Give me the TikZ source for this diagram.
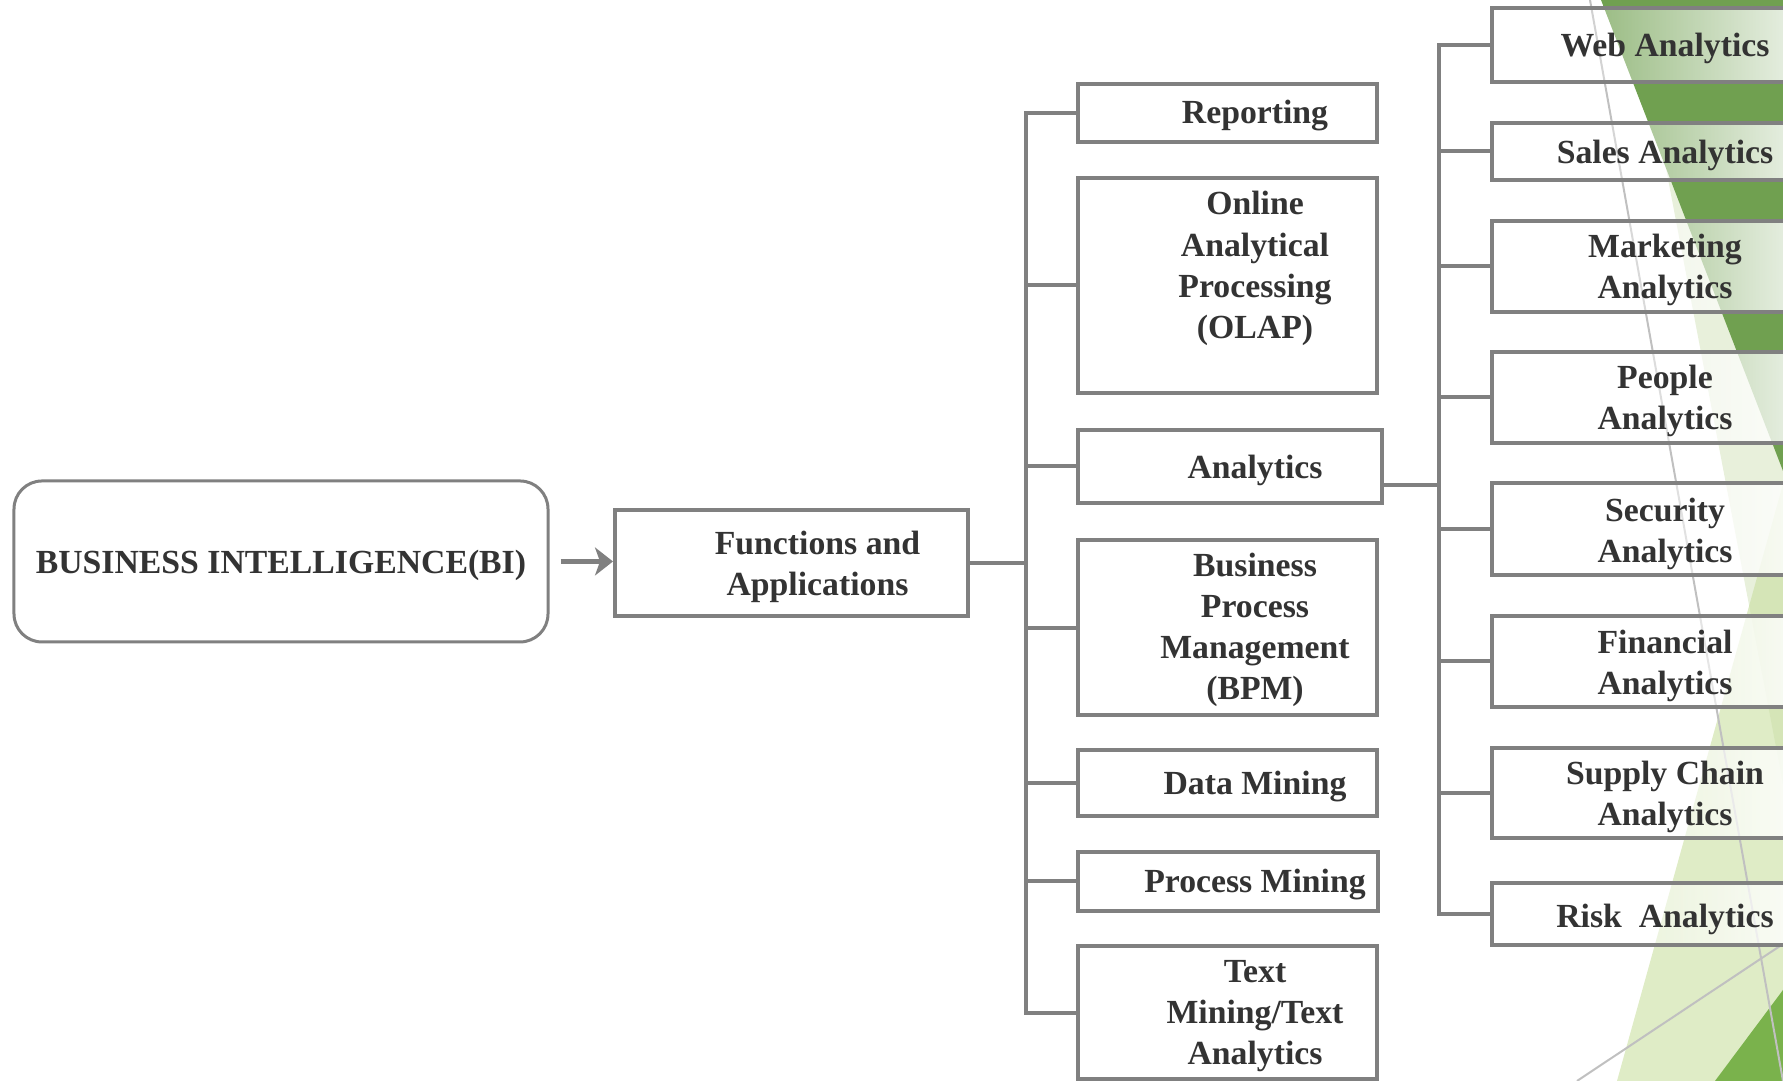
\documentclass[tikz,border=0pt]{standalone}
\usepackage{fontspec}
\setmainfont{Liberation Serif}
\usetikzlibrary{arrows.meta,fadings}

\definecolor{boxgray}{RGB}{128,128,128}
\definecolor{inkgray}{RGB}{51,51,51}
\definecolor{leafdark}{RGB}{112,160,80}
\definecolor{leafpale}{RGB}{232,240,219}
\definecolor{leaflight}{RGB}{201,223,160}
\definecolor{leafbright}{RGB}{122,178,76}
\definecolor{faintline}{RGB}{192,192,192}

% box fill: see-through on the left, solid on the right
\tikzfading[name=boxfade, left color=transparent!100, right color=transparent!0]

\begin{document}
\begin{tikzpicture}[
  font=\fontsize{9.6}{11.7}\selectfont\bfseries, line width=0.04cm,
  rootbox/.style={rectangle, rounded corners=0.28cm, draw=boxgray, line width=0.03cm, minimum width=5.34cm, minimum height=1.61cm},
  funcbox/.style={rectangle, draw=boxgray, fill=white, minimum width=2.99cm},
  subbox/.style={rectangle, draw=boxgray, minimum width=3.58cm, preaction={fill=white, path fading=boxfade}},
  boxtext/.style={align=center, text=inkgray, inner sep=0pt},
  link/.style={draw=boxgray}
]

\useasboundingbox (0,0) rectangle (17.83,10.81);
\clip (0,0) rectangle (17.83,10.81);

% green facets on the right
\fill[leafpale] (16.34,10.81) -- (17.83,10.81) -- (17.83,2.97) -- cycle;
\fill[leaflight, fill opacity=0.6] (16.17,0) -- (17.83,5.97) -- (17.83,0) -- cycle;
\fill[leafdark] (16.01,10.81) -- (17.83,10.81) -- (17.83,6.10) -- cycle;
\fill[leafbright] (17.15,0) -- (17.83,0.91) -- (17.83,0) -- cycle;
\draw[faintline, line width=0.02cm] (15.90,10.81) -- (17.83,0);
\draw[faintline, line width=0.02cm] (15.77,0) -- (17.83,1.37);

% root and first level
\node[rootbox] (bi) at (2.81,5.195) {};
\node[boxtext] (bi-t) at (2.81,5.16) {BUSINESS INTELLIGENCE(BI)};
\node[funcbox, minimum width=3.53cm, minimum height=1.06cm] (fa) at (7.915,5.176) {};
\node[boxtext] (fa-t) at (8.175,5.142) {Functions and\\Applications};

% second level
\node[funcbox, minimum height=0.58cm] (rep) at (12.275,9.68) {};
\node[funcbox, minimum height=2.15cm] (olap) at (12.275,7.955) {};
\node[funcbox, minimum width=3.04cm, minimum height=0.73cm] (ana) at (12.30,6.145) {};
\node[funcbox, minimum height=1.75cm] (bpm) at (12.275,4.533) {};
\node[funcbox, minimum height=0.66cm] (dm) at (12.275,2.975) {};
\node[funcbox, minimum width=3.00cm, minimum height=0.59cm] (pm) at (12.28,1.998) {};
\node[funcbox, minimum height=1.33cm] (tm) at (12.275,0.684) {};

\node[boxtext] (rep-t) at (12.55,9.65) {Reporting};
\node[boxtext] (olap-t) at (12.55,8.125) {Online\\Analytical\\Processing\\(OLAP)};
\node[boxtext] (ana-t) at (12.55,6.11) {Analytics};
\node[boxtext] (bpm-t) at (12.55,4.514) {Business\\Process\\Management\\(BPM)};
\node[boxtext] (dm-t) at (12.55,2.941) {Data Mining};
\node[boxtext] (pm-t) at (12.55,1.963) {Process Mining};
\node[boxtext] (tm-t) at (12.55,0.648) {Text\\Mining/Text\\Analytics};

% third level, under analytics
\node[subbox, minimum height=0.74cm] (web) at (16.71,10.36) {};
\node[subbox, minimum height=0.57cm] (sal) at (16.71,9.295) {};
\node[subbox, minimum height=0.91cm] (mkt) at (16.71,8.145) {};
\node[subbox, minimum height=0.91cm] (ppl) at (16.71,6.835) {};
\node[subbox, minimum height=0.92cm] (sec) at (16.71,5.52) {};
\node[subbox, minimum height=0.91cm] (fin) at (16.71,4.195) {};
\node[subbox, minimum height=0.90cm] (sup) at (16.71,2.88) {};
\node[subbox, minimum height=0.62cm] (risk) at (16.71,1.67) {};

\node[boxtext] (web-t) at (16.65,10.33) {Web Analytics};
\node[boxtext] (sal-t) at (16.65,9.26) {Sales Analytics};
\node[boxtext] (mkt-t) at (16.65,8.112) {Marketing\\Analytics};
\node[boxtext] (ppl-t) at (16.65,6.798) {People\\Analytics};
\node[boxtext] (sec-t) at (16.65,5.467) {Security\\Analytics};
\node[boxtext] (fin-t) at (16.65,4.152) {Financial\\Analytics};
\node[boxtext] (sup-t) at (16.65,2.837) {Supply Chain\\Analytics};
\node[boxtext] (risk-t) at (16.65,1.618) {Risk\ \ Analytics};

% connectors
\draw[link, line width=0.05cm, -{Stealth[length=0.18cm, width=0.28cm, inset=0.05cm]}, shorten <=0.11cm] (bi.east) -- (bi.east -| fa.west);

\draw[link] (fa.east) -- ++(0.56,0) |- (rep.west);
\draw[link] (fa.east) -- ++(0.56,0) |- (olap.west);
\draw[link] (fa.east) -- ++(0.56,0) |- (ana.west);
\draw[link] (fa.east) -- ++(0.56,0) |- (bpm.west);
\draw[link] (fa.east) -- ++(0.56,0) |- (dm.west);
\draw[link] (fa.east) -- ++(0.56,0) |- (pm.west);
\draw[link] (fa.east) -- ++(0.56,0) |- (tm.west);

\draw[link] ([yshift=-0.185cm]ana.east) -- ++(0.55,0) |- (web.west);
\draw[link] ([yshift=-0.185cm]ana.east) -- ++(0.55,0) |- (sal.west);
\draw[link] ([yshift=-0.185cm]ana.east) -- ++(0.55,0) |- (mkt.west);
\draw[link] ([yshift=-0.185cm]ana.east) -- ++(0.55,0) |- (ppl.west);
\draw[link] ([yshift=-0.185cm]ana.east) -- ++(0.55,0) |- (sec.west);
\draw[link] ([yshift=-0.185cm]ana.east) -- ++(0.55,0) |- (fin.west);
\draw[link] ([yshift=-0.185cm]ana.east) -- ++(0.55,0) |- (sup.west);
\draw[link] ([yshift=-0.185cm]ana.east) -- ++(0.55,0) |- (risk.west);

\end{tikzpicture}
\end{document}
